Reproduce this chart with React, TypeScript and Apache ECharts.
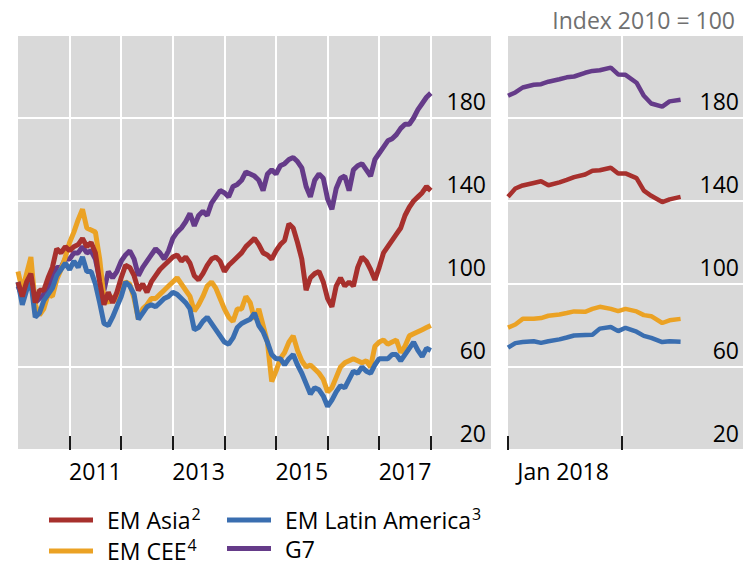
import React, { useEffect, useRef } from "react";
import * as echarts from "echarts";

// ---------- Data ----------
// Left panel: monthly readings, Jan 2010 (index 0) .. end 2017 (index 96)
const g7Left = [
  99, 94, 100, 104, 91, 93, 95, 98, 103, 108, 108, 112,
  112, 115, 115, 118, 115, 116, 112, 102, 97, 106, 103, 106,
  111, 114, 116, 112, 104, 108, 111, 114, 117, 115, 112, 116,
  122, 125, 127, 130, 134, 128, 133, 135, 133, 139, 142, 145,
  144, 142, 147, 148, 150, 154, 153, 152, 150, 145, 153, 155,
  153, 157, 158, 160, 161, 159, 156, 147, 142, 150, 153, 151,
  141, 136, 146, 151, 152, 145, 155, 157, 158, 155, 152, 160,
  163, 166, 169, 170, 172, 175, 177, 177, 180, 184, 187, 190, 192,
];
const emAsiaLeft = [
  101, 94, 101, 105, 91, 97, 97, 103, 108, 117, 115, 118,
  116, 118, 119, 122, 118, 120, 115, 101, 90, 96, 91, 96,
  103, 109, 108, 104, 97, 100, 96, 101, 104, 107, 109, 111,
  113, 114, 111, 113, 110, 104, 102, 105, 109, 112, 113, 111,
  106, 109, 111, 113, 115, 118, 120, 122, 119, 115, 114, 112,
  116, 119, 121, 129, 127, 120, 112, 97, 103, 105, 106, 101,
  93, 89, 99, 103, 99, 101, 99, 108, 113, 111, 107, 102,
  108, 115, 118, 121, 124, 127, 133, 137, 140, 142, 144, 147, 145,
];
const emCeeLeft = [
  106, 97, 105, 113, 90, 85, 88, 95, 94, 102, 107, 113,
  120, 125, 131, 136, 127, 126, 125, 112, 93, 91, 94, 92,
  98, 101, 100, 93, 83, 88, 90, 93, 93, 95, 97, 99,
  101, 103, 100, 97, 94, 87, 90, 94, 99, 101, 98, 93,
  88, 84, 82, 88, 88, 94, 91, 83, 88, 80, 72, 53,
  58, 64, 67, 72, 75, 68, 63, 60, 61, 59, 57, 54,
  48, 50, 55, 60, 62, 63, 64, 63, 62, 63, 60, 70,
  72, 73, 71, 72, 73, 67, 70, 75, 76, 77, 78, 79, 80,
];
const emLatamLeft = [
  101, 90, 97, 101, 84, 86, 92, 95, 98, 104, 107, 110,
  107, 111, 108, 113, 106, 106, 100, 91, 81, 80, 84, 89,
  94, 101, 99, 95, 83, 86, 89, 90, 89, 91, 93, 94,
  96, 95, 93, 91, 88, 78, 79, 82, 84, 81, 78, 75,
  72, 71, 74, 79, 81, 82, 83, 86, 80, 77, 72, 66,
  64, 64, 61, 64, 66, 61, 57, 52, 47, 50, 49, 46,
  41, 44, 48, 51, 50, 54, 58, 57, 60, 58, 57, 61,
  64, 64, 64, 66, 66, 63, 66, 69, 72, 68, 65, 69, 68,
];

// Right panel: daily readings, Jan - Feb 2018
const rightDates = [
  "2018-01-01", "2018-01-03", "2018-01-05", "2018-01-08", "2018-01-10", "2018-01-12",
  "2018-01-15", "2018-01-17", "2018-01-19", "2018-01-22", "2018-01-24", "2018-01-26",
  "2018-01-29", "2018-01-31", "2018-02-02", "2018-02-05", "2018-02-07", "2018-02-09",
  "2018-02-12", "2018-02-14", "2018-02-17",
];
const g7Right = [190.7, 192.3, 194.7, 196, 196.3, 197.5, 198.7, 199.6, 200, 201.8, 202.7, 203, 204.3, 201, 200.8, 197, 190.7, 187, 185.5, 188, 188.8];
const emAsiaRight = [142, 146, 147.5, 148.7, 149.5, 147.6, 149, 150.2, 151.5, 152.8, 154.6, 154.8, 156, 153.2, 153.3, 151, 145, 142.5, 139.5, 140.8, 142];
const emCeeRight = [79, 80.5, 83.2, 83.2, 83.6, 84.7, 85.3, 86, 86.8, 86.6, 88, 89, 88, 86.9, 88, 86.8, 85, 84.5, 81.2, 82.5, 83.2];
const emLatamRight = [69.3, 71.5, 72, 72.4, 71.6, 72.4, 73.3, 74.2, 75.2, 75.4, 75.5, 78.5, 79.3, 77.3, 78.9, 77, 75, 74, 72, 72.4, 72.2];

const yTicks = { min: 20, max: 220, interval: 40 };
const leftYearLabelIdx = [18, 42, 66, 90]; // Jul 2011, 2013, 2015, 2017
const rightLabel = "Jan 2018";
const unitLabel = "Index 2010 = 100";

// category axes (months / days)
const leftMonths: string[] = [];
for (let i = 0; i <= 110; i++) {
  const y = 2010 + Math.floor(i / 12);
  const m = (i % 12) + 1;
  leftMonths.push(`${y}-${String(m).padStart(2, "0")}`);
}
const rightDays: string[] = [];
for (let i = 0; i <= 64; i++) {
  rightDays.push(new Date(Date.UTC(2018, 0, 1 + i)).toISOString().slice(0, 10));
}

const COLORS: Record<string, string> = {
  "EM Asia": "#a7302d",
  "EM Latin America": "#3a6eb0",
  "EM CEE": "#eba224",
  G7: "#653b89",
};
const SUP: Record<string, string> = {
  "EM Asia": "2",
  "EM Latin America": "3",
  "EM CEE": "4",
  G7: "",
};

const FONT = "Open Sans";

export default function App() {
  const ref = useRef<HTMLDivElement>(null);
  useEffect(() => {
    if (!ref.current) return;
    document.body.style.margin = "0";
    const chart = echarts.init(ref.current, undefined, { renderer: "svg" });

    const yAxisCommon = (gridIndex: number, margin: number) => ({
      type: "value",
      gridIndex,
      position: "right",
      min: yTicks.min,
      max: yTicks.max,
      interval: yTicks.interval,
      axisLine: { show: false },
      axisTick: { show: false },
      splitLine: { show: true, lineStyle: { color: "#ffffff", width: 2 } },
      axisLabel: {
        inside: true,
        margin,
        fontSize: 23,
        color: "#000",
        fontFamily: FONT,
        verticalAlign: "bottom",
        lineHeight: 23,
        padding: [0, 0, 6, 0],
        formatter: (v: number) => (v >= yTicks.max ? "" : String(v)),
      },
    });

    const leftTick = (i: number) => i > 0 && i % 12 === 0 && i <= 96;
    const rightTick = (i: number) => i === 0 || i === 31;

    const legendFormatter = (name: string) =>
      SUP[name] ? `{n|${name}}{s|${SUP[name]}}` : `{n|${name}}`;
    const legendText = {
      color: "#000",
      fontFamily: FONT,
      rich: {
        n: { fontSize: 23, lineHeight: 28, color: "#000", fontFamily: FONT, padding: [0, 0, 0, 9], verticalAlign: "middle" },
        s: { fontSize: 16, lineHeight: 14, color: "#000", fontFamily: FONT, verticalAlign: "top", padding: [0, 0, 0, 1] },
      },
    };
    const mkLegend = (name: string, left: number, top: number) => ({
      left,
      top,
      orient: "horizontal",
      icon: "rect",
      itemWidth: 44,
      itemHeight: 5,
      selectedMode: false,
      data: [name],
      formatter: legendFormatter,
      textStyle: legendText,
    });

    const order = ["G7", "EM CEE", "EM Latin America", "EM Asia"];
    const leftData: Record<string, number[]> = {
      G7: g7Left,
      "EM CEE": emCeeLeft,
      "EM Latin America": emLatamLeft,
      "EM Asia": emAsiaLeft,
    };
    const rightData: Record<string, number[]> = {
      G7: g7Right,
      "EM CEE": emCeeRight,
      "EM Latin America": emLatamRight,
      "EM Asia": emAsiaRight,
    };

    const series: any[] = [];
    order.forEach((name) => {
      series.push({
        name,
        type: "line",
        xAxisIndex: 0,
        yAxisIndex: 0,
        data: leftData[name],
        showSymbol: false,
        symbol: "none",
        color: COLORS[name],
        lineStyle: { width: 5, color: COLORS[name] },
      });
    });
    order.forEach((name) => {
      series.push({
        name,
        type: "line",
        xAxisIndex: 1,
        yAxisIndex: 1,
        data: rightDates.map((d, i) => [d, rightData[name][i]]),
        showSymbol: false,
        symbol: "none",
        color: COLORS[name],
        lineStyle: { width: 4.5, color: COLORS[name] },
      });
    });

    chart.setOption({
      animation: false,
      textStyle: { fontFamily: FONT },
      title: {
        text: unitLabel,
        right: 5,
        top: 3,
        textStyle: { fontSize: 23, fontWeight: "normal", color: "#707070", fontFamily: FONT },
      },
      legend: [
        mkLegend("EM Asia", 44, 501),
        mkLegend("EM CEE", 44, 532),
        mkLegend("EM Latin America", 222, 501),
        mkLegend("G7", 222, 532),
      ],
      grid: [
        { left: 18, top: 35, width: 473, height: 415, show: true, backgroundColor: "#d9d9d9", borderWidth: 0 },
        { left: 508, top: 35, width: 235, height: 415, show: true, backgroundColor: "#d9d9d9", borderWidth: 0 },
      ],
      xAxis: [
        {
          type: "category",
          gridIndex: 0,
          data: leftMonths,
          boundaryGap: false,
          axisLine: { show: false },
          axisTick: { show: true, inside: true, length: 14, interval: leftTick, lineStyle: { color: "#1a1a1a", width: 2 } },
          splitLine: { show: true, interval: leftTick, lineStyle: { color: "#ffffff", width: 2 } },
          axisLabel: {
            interval: (i: number) => leftYearLabelIdx.includes(i),
            formatter: (v: string) => v.slice(0, 4),
            fontSize: 23,
            color: "#000",
            fontFamily: FONT,
            margin: 9,
          },
        },
        {
          type: "category",
          gridIndex: 1,
          data: rightDays,
          boundaryGap: false,
          axisLine: { show: false },
          axisTick: { show: true, inside: true, length: 14, interval: rightTick, lineStyle: { color: "#1a1a1a", width: 2 } },
          splitLine: { show: true, interval: (i: number) => i === 31, lineStyle: { color: "#ffffff", width: 2 } },
          axisLabel: {
            interval: (i: number) => i === 15,
            formatter: () => rightLabel,
            fontSize: 23,
            color: "#000",
            fontFamily: FONT,
            margin: 9,
          },
        },
      ],
      yAxis: [yAxisCommon(0, 5), yAxisCommon(1, 4)],
      series,
    });

    return () => chart.dispose();
  }, []);

  return <div ref={ref} style={{ width: 745, height: 561 }} />;
}
